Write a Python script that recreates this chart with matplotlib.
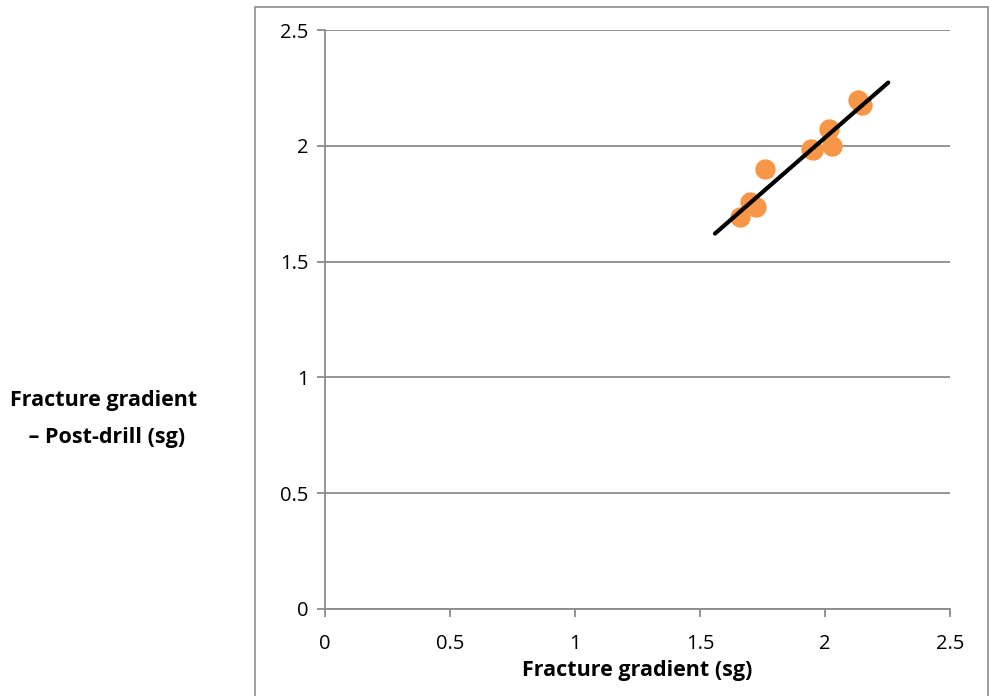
import matplotlib.pyplot as plt
from matplotlib.patches import Rectangle

# measured points
fg_pre = [1.66, 1.70, 1.723, 1.76, 1.943, 1.95, 2.017, 2.029, 2.133, 2.147]
fg_post = [1.694, 1.759, 1.737, 1.90, 1.986, 1.98, 2.071, 1.999, 2.198, 2.176]

# linear trend line ends
trend_x = [1.56, 2.253]
trend_y = [1.621, 2.273]

ticks = [0, 0.5, 1, 1.5, 2, 2.5]
tick_labels = ['0', '0.5', '1', '1.5', '2', '2.5']

plt.rcParams['font.family'] = ['Open Sans', 'DejaVu Sans']

fig = plt.figure(figsize=(9.9, 6.96), dpi=100)
fig.patches.append(Rectangle((255 / 990, -0.01), 733 / 990, 1 - 7 / 696 + 0.01,
                             transform=fig.transFigure, fill=False,
                             edgecolor='#8c8c8c', linewidth=1.2))

ax = fig.add_axes([325 / 990, 1 - 609 / 696, 625 / 990, 579 / 696])

ax.scatter(fg_pre, fg_post, s=215, color='#F79646', zorder=3, linewidths=0)
ax.plot(trend_x, trend_y, color='black', linewidth=3, solid_capstyle='round', zorder=4)

ax.set_xlim(0, 2.5)
ax.set_ylim(0, 2.5)
ax.set_xticks(ticks)
ax.set_xticklabels(tick_labels)
ax.set_yticks(ticks)
ax.set_yticklabels(tick_labels)
ax.yaxis.grid(True, color='#8c8c8c', linewidth=1.3)
ax.set_axisbelow(True)

for s in ['top', 'right']:
    ax.spines[s].set_visible(False)
for s in ['left', 'bottom']:
    ax.spines[s].set_color('#8c8c8c')
    ax.spines[s].set_linewidth(1.3)

ax.tick_params(axis='both', colors='#8c8c8c', length=6, width=1.3, labelsize=14.5, labelcolor='black')
ax.tick_params(axis='x', pad=12)
ax.tick_params(axis='y', pad=6)

ax.set_xlabel('Fracture gradient (sg)', fontsize=15.5, fontweight='bold', labelpad=4)
fig.text(104 / 990, 1 - 419 / 696, 'Fracture gradient\n \u2013 Post-drill (sg)',
         fontsize=15.5, fontweight='bold', ha='center', va='center', linespacing=1.95)

fig.savefig('out.png', dpi=100)
